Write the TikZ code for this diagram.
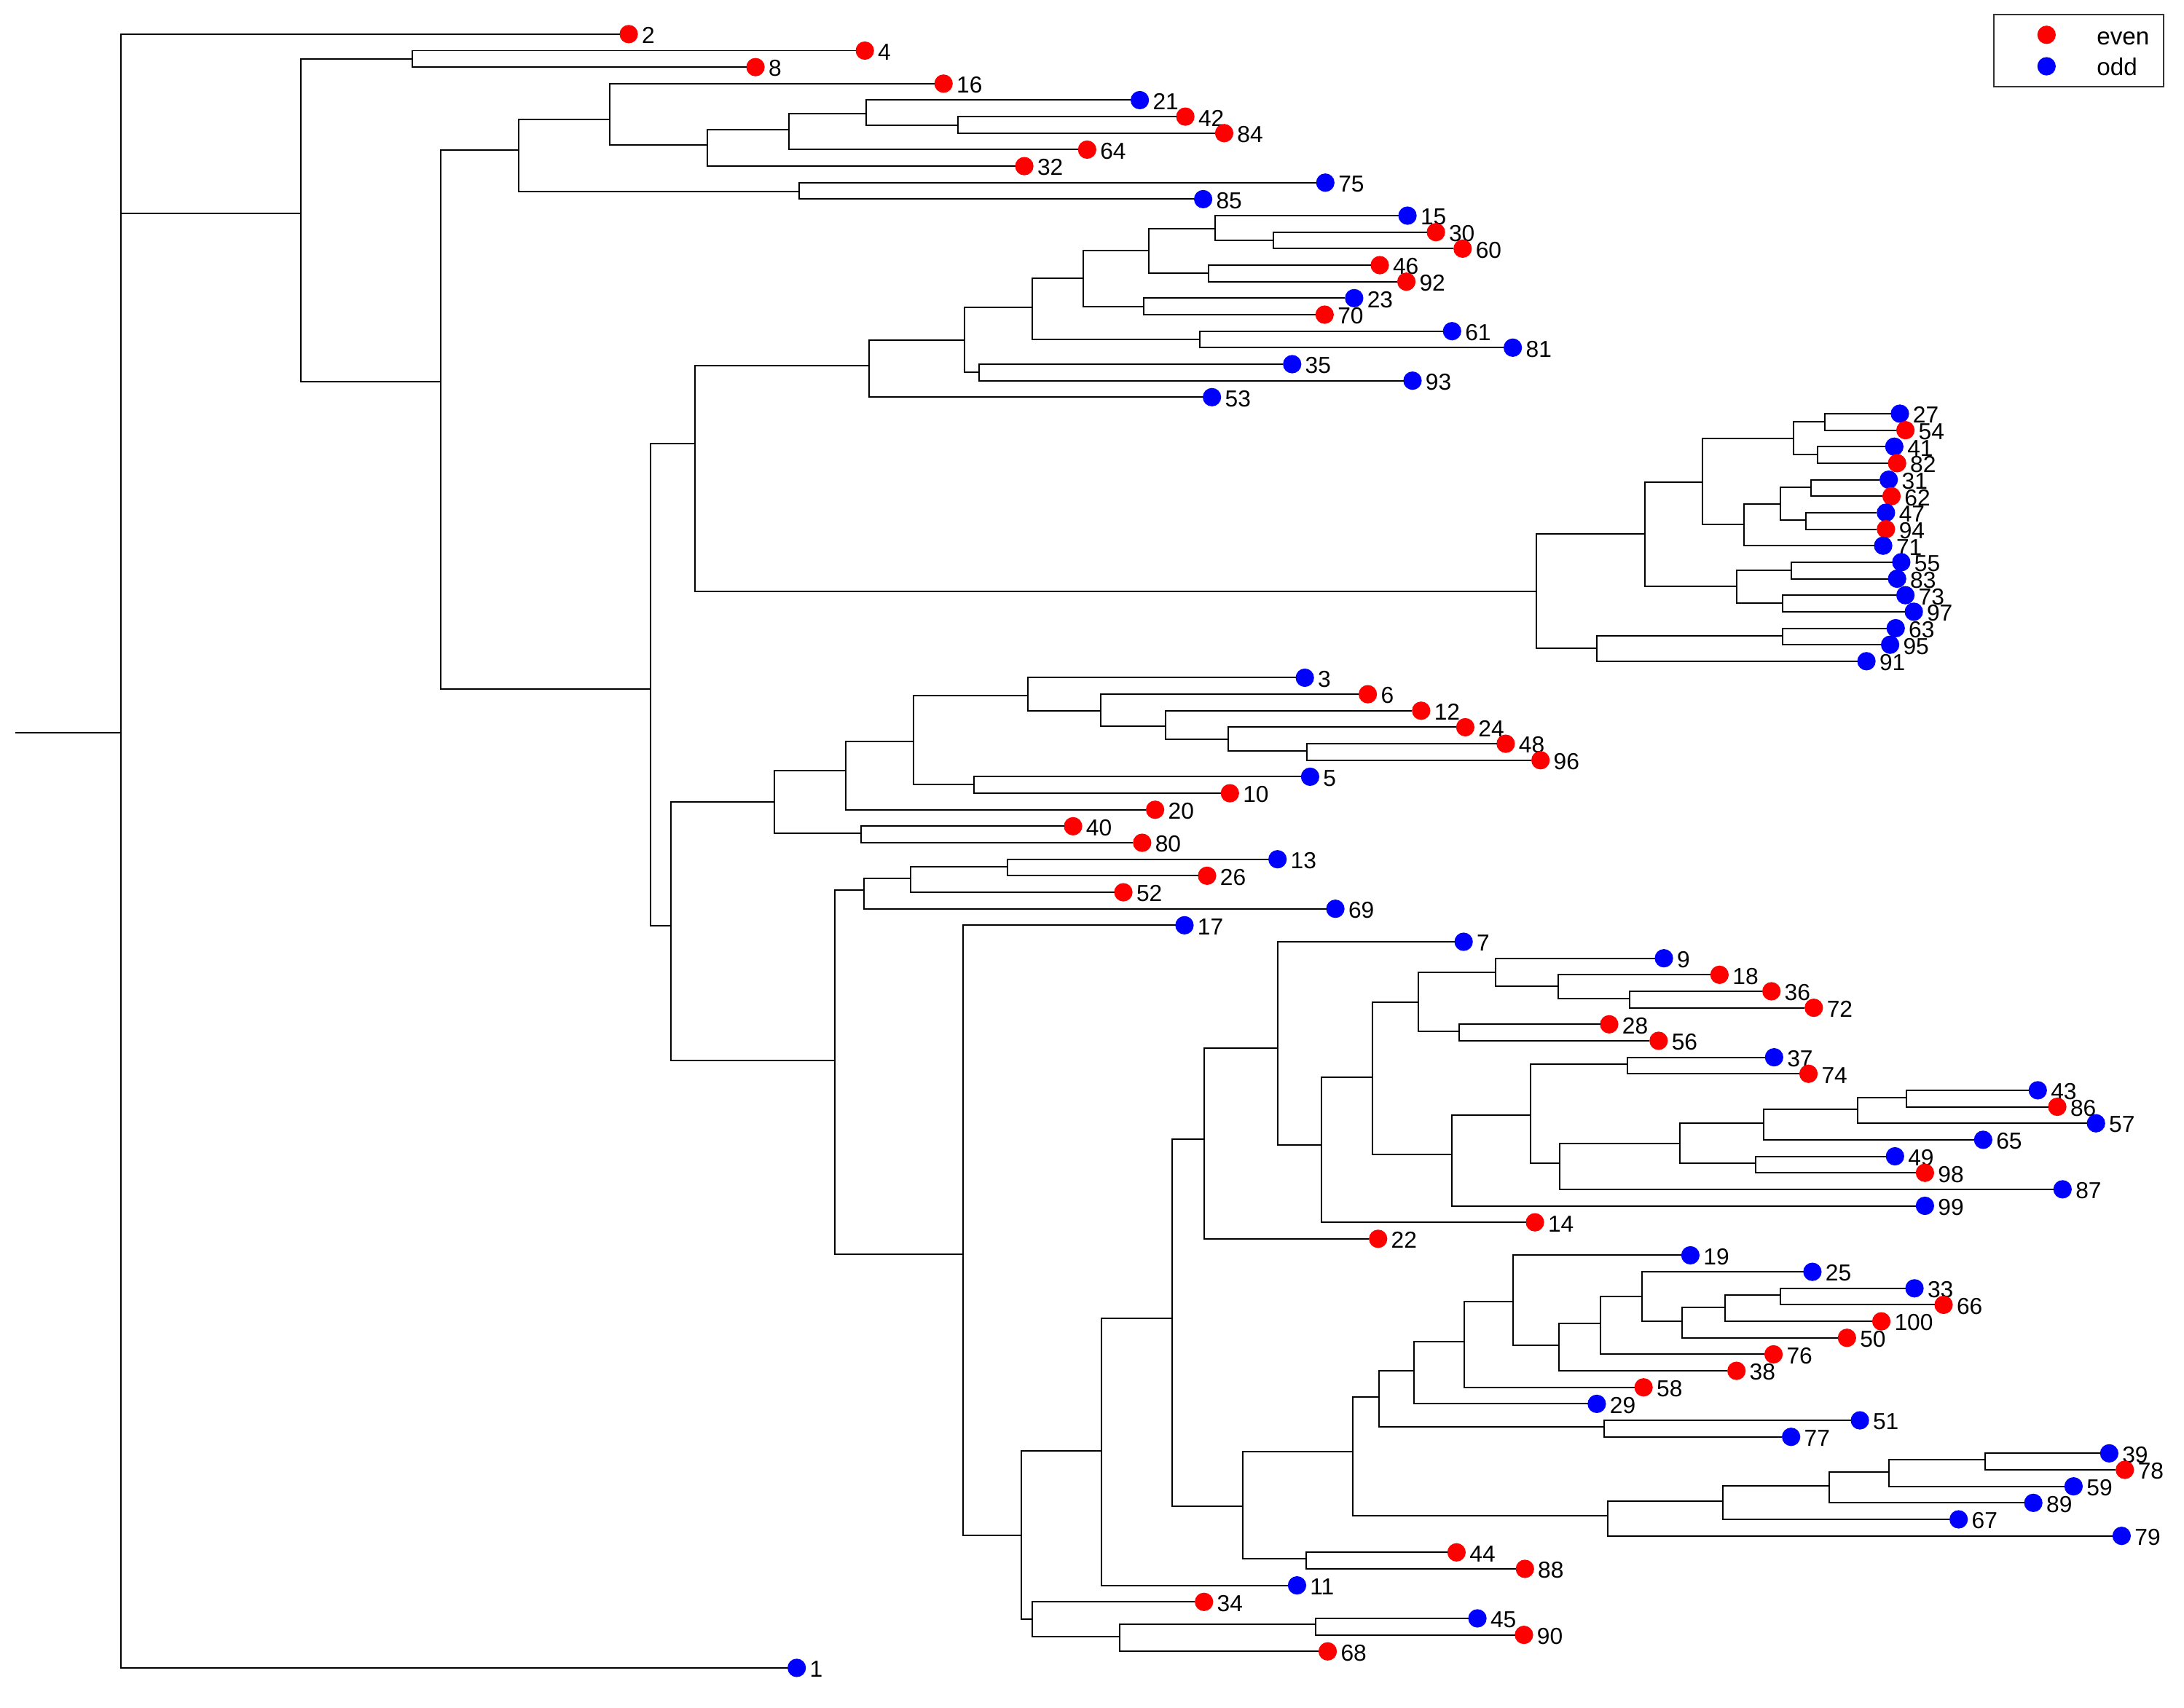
\documentclass[tikz,border=0pt]{standalone}
\usepackage{fontspec}
\setmainfont{Liberation Sans}
\tikzset{
  dot/.style={shape=circle,inner sep=0pt,minimum size=6.6pt},
  tiplab/.style={inner sep=1pt,yshift=-0.5pt,font=\fontsize{8.3}{10}\selectfont},
  even/.style={dot,fill=red,label distance=1.3pt,label={[tiplab]right:#1}},
  odd/.style={dot,fill=blue,label distance=1.3pt,label={[tiplab]right:#1}},
  branch/.style={line width=0.52pt,line cap=rect}
}
\begin{document}
\begin{tikzpicture}[x=0.5pt,y=-0.5pt]
        \useasboundingbox (0,0) rectangle (1568,1226);
        \node[even=2] (L2) at (451.4,24.5) {};
        \node[even=4] (L4) at (620.9,36.35) {};
        \node[even=8] (L8) at (542.4,48.2) {};
        \node[even=16] (L16) at (677.4,60.05) {};
        \node[odd=21] (L21) at (818.3,71.9) {};
        \node[even=42] (L42) at (851,83.75) {};
        \node[even=84] (L84) at (878.9,95.6) {};
        \node[even=64] (L64) at (780.5,107.45) {};
        \node[even=32] (L32) at (735.4,119.3) {};
        \node[odd=75] (L75) at (951.5,131.15) {};
        \node[odd=85] (L85) at (863.8,143) {};
        \node[odd=15] (L15) at (1010.5,154.85) {};
        \node[even=30] (L30) at (1030.9,166.7) {};
        \node[even=60] (L60) at (1050.1,178.55) {};
        \node[even=46] (L46) at (990.6,190.4) {};
        \node[even=92] (L92) at (1009.7,202.25) {};
        \node[odd=23] (L23) at (972.2,214.1) {};
        \node[even=70] (L70) at (951,225.95) {};
        \node[odd=61] (L61) at (1042.5,237.8) {};
        \node[odd=81] (L81) at (1086.1,249.65) {};
        \node[odd=35] (L35) at (927.7,261.5) {};
        \node[odd=93] (L93) at (1014.1,273.35) {};
        \node[odd=53] (L53) at (870.1,285.2) {};
        \node[odd=27] (L27) at (1364,297.05) {};
        \node[even=54] (L54) at (1368,308.9) {};
        \node[odd=41] (L41) at (1360,320.75) {};
        \node[even=82] (L82) at (1362,332.6) {};
        \node[odd=31] (L31) at (1356,344.45) {};
        \node[even=62] (L62) at (1358,356.3) {};
        \node[odd=47] (L47) at (1354,368.15) {};
        \node[even=94] (L94) at (1354,380) {};
        \node[odd=71] (L71) at (1352,391.85) {};
        \node[odd=55] (L55) at (1365,403.7) {};
        \node[odd=83] (L83) at (1362,415.55) {};
        \node[odd=73] (L73) at (1368,427.4) {};
        \node[odd=97] (L97) at (1374,439.25) {};
        \node[odd=63] (L63) at (1361,451.1) {};
        \node[odd=95] (L95) at (1357,462.95) {};
        \node[odd=91] (L91) at (1340,474.8) {};
        \node[odd=3] (L3) at (936.8,486.65) {};
        \node[even=6] (L6) at (982,498.5) {};
        \node[even=12] (L12) at (1020.3,510.35) {};
        \node[even=24] (L24) at (1052,522.2) {};
        \node[even=48] (L48) at (1081,534.05) {};
        \node[even=96] (L96) at (1106,545.9) {};
        \node[odd=5] (L5) at (940.6,557.75) {};
        \node[even=10] (L10) at (883,569.6) {};
        \node[even=20] (L20) at (829.3,581.45) {};
        \node[even=40] (L40) at (770.4,593.3) {};
        \node[even=80] (L80) at (820,605.15) {};
        \node[odd=13] (L13) at (917.2,617) {};
        \node[even=26] (L26) at (866.6,628.85) {};
        \node[even=52] (L52) at (806.5,640.7) {};
        \node[odd=69] (L69) at (958.7,652.55) {};
        \node[odd=17] (L17) at (850.4,664.4) {};
        \node[odd=7] (L7) at (1050.8,676.25) {};
        \node[odd=9] (L9) at (1194.6,688.1) {};
        \node[even=18] (L18) at (1234.5,699.95) {};
        \node[even=36] (L36) at (1271.8,711.8) {};
        \node[even=72] (L72) at (1302.2,723.65) {};
        \node[even=28] (L28) at (1155.3,735.5) {};
        \node[even=56] (L56) at (1190.8,747.35) {};
        \node[odd=37] (L37) at (1273.7,759.2) {};
        \node[even=74] (L74) at (1298.4,771.05) {};
        \node[odd=43] (L43) at (1463,782.9) {};
        \node[even=86] (L86) at (1477,794.75) {};
        \node[odd=57] (L57) at (1504.8,806.6) {};
        \node[odd=65] (L65) at (1423.8,818.45) {};
        \node[odd=49] (L49) at (1360.5,830.3) {};
        \node[even=98] (L98) at (1382,842.15) {};
        \node[odd=87] (L87) at (1480.8,854) {};
        \node[odd=99] (L99) at (1382,865.85) {};
        \node[even=14] (L14) at (1102,877.7) {};
        \node[even=22] (L22) at (989.4,889.55) {};
        \node[odd=19] (L19) at (1213.6,901.4) {};
        \node[odd=25] (L25) at (1301.2,913.25) {};
        \node[odd=33] (L33) at (1374.5,925.1) {};
        \node[even=66] (L66) at (1395.4,936.95) {};
        \node[even=100] (L100) at (1350.7,948.8) {};
        \node[even=50] (L50) at (1326,960.65) {};
        \node[even=76] (L76) at (1273.3,972.5) {};
        \node[even=38] (L38) at (1246.7,984.35) {};
        \node[even=58] (L58) at (1180,996.2) {};
        \node[odd=29] (L29) at (1146.4,1008.05) {};
        \node[odd=51] (L51) at (1335.3,1019.9) {};
        \node[odd=77] (L77) at (1285.9,1031.75) {};
        \node[odd=39] (L39) at (1514.3,1043.6) {};
        \node[even=78] (L78) at (1525.5,1055.45) {};
        \node[odd=59] (L59) at (1488.7,1067.3) {};
        \node[odd=89] (L89) at (1459.8,1079.15) {};
        \node[odd=67] (L67) at (1406.2,1091) {};
        \node[odd=79] (L79) at (1523.2,1102.85) {};
        \node[even=44] (L44) at (1045.7,1114.7) {};
        \node[even=88] (L88) at (1094.8,1126.55) {};
        \node[odd=11] (L11) at (931.2,1138.4) {};
        \node[even=34] (L34) at (864.4,1150.25) {};
        \node[odd=45] (L45) at (1060.7,1162.1) {};
        \node[even=90] (L90) at (1094.1,1173.95) {};
        \node[even=68] (L68) at (953.2,1185.8) {};
        \node[odd=1] (L1) at (572,1197.65) {};
        \coordinate (R) at (11.5,526);
        \coordinate (N0) at (86.7,526);
        \coordinate (N1) at (216,153);
        \coordinate (N2) at (296.2,42.5);
        \coordinate (N3) at (316.4,274);
        \coordinate (N4) at (372.6,107.7);
        \coordinate (N5) at (437.5,85.6);
        \coordinate (N6) at (507.6,104);
        \coordinate (N7) at (566.3,93);
        \coordinate (N8) at (621.7,81.4);
        \coordinate (N9) at (687.7,89.8);
        \coordinate (N10) at (573.6,137.5);
        \coordinate (N11) at (467,495);
        \coordinate (N12) at (498.8,318.6);
        \coordinate (N13) at (623.9,262.4);
        \coordinate (N14) at (692.5,244.5);
        \coordinate (N15) at (741.3,220.5);
        \coordinate (N16) at (777.6,200);
        \coordinate (N17) at (824.6,180);
        \coordinate (N18) at (872.3,164);
        \coordinate (N19) at (914.4,172.5);
        \coordinate (N20) at (867.5,196);
        \coordinate (N21) at (820.9,220);
        \coordinate (N22) at (861.2,243.5);
        \coordinate (N23) at (703.1,267);
        \coordinate (N24) at (1103,424.5);
        \coordinate (N25) at (1181,383.2);
        \coordinate (N26) at (1222.2,346);
        \coordinate (N27) at (1287.4,314.7);
        \coordinate (N28) at (1310,302.6);
        \coordinate (N29) at (1304.7,326.3);
        \coordinate (N30) at (1252,376.5);
        \coordinate (N31) at (1278,361.7);
        \coordinate (N32) at (1300,350);
        \coordinate (N33) at (1296.4,373.6);
        \coordinate (N34) at (1246.8,421);
        \coordinate (N35) at (1286,409.5);
        \coordinate (N36) at (1280,432.9);
        \coordinate (N37) at (1146.2,465.5);
        \coordinate (N38) at (1280,456.4);
        \coordinate (N39) at (481.5,664.6);
        \coordinate (N40) at (556.1,575.7);
        \coordinate (N41) at (607,553.3);
        \coordinate (N42) at (655.6,532.3);
        \coordinate (N43) at (737.8,499.5);
        \coordinate (N44) at (790.1,510.5);
        \coordinate (N45) at (836.6,521.4);
        \coordinate (N46) at (881.7,530.9);
        \coordinate (N47) at (938.2,539.2);
        \coordinate (N48) at (699.5,563.3);
        \coordinate (N49) at (618.2,598.3);
        \coordinate (N50) at (599.4,761.5);
        \coordinate (N51) at (620.1,638.9);
        \coordinate (N52) at (653.8,630.6);
        \coordinate (N53) at (723.3,622.2);
        \coordinate (N54) at (691.4,900.5);
        \coordinate (N55) at (733.1,1102.4);
        \coordinate (N56) at (790.7,1042);
        \coordinate (N57) at (841.7,946.6);
        \coordinate (N58) at (864.7,818);
        \coordinate (N59) at (917.2,752.6);
        \coordinate (N60) at (948.9,822.2);
        \coordinate (N61) at (985.6,773.3);
        \coordinate (N62) at (1018.5,719.6);
        \coordinate (N63) at (1073.6,698.2);
        \coordinate (N64) at (1118.6,708.1);
        \coordinate (N65) at (1169.9,716.9);
        \coordinate (N66) at (1047.7,740.6);
        \coordinate (N67) at (1042.6,828.8);
        \coordinate (N68) at (1099,800.5);
        \coordinate (N69) at (1168.6,763.9);
        \coordinate (N70) at (1119.9,835.4);
        \coordinate (N71) at (1206,821.1);
        \coordinate (N72) at (1266.1,806.5);
        \coordinate (N73) at (1333.9,796.5);
        \coordinate (N74) at (1368.7,788.2);
        \coordinate (N75) at (1260.4,835.2);
        \coordinate (N76) at (892.3,1081.7);
        \coordinate (N77) at (971.1,1042.3);
        \coordinate (N78) at (990.2,1003.1);
        \coordinate (N79) at (1014.9,984.3);
        \coordinate (N80) at (1051.3,963.2);
        \coordinate (N81) at (1086.3,934.4);
        \coordinate (N82) at (1119.4,965.8);
        \coordinate (N83) at (1148.8,950.3);
        \coordinate (N84) at (1179.1,930.9);
        \coordinate (N85) at (1207.5,948.5);
        \coordinate (N86) at (1238.3,938.8);
        \coordinate (N87) at (1278.4,929.9);
        \coordinate (N88) at (1151.6,1024.4);
        \coordinate (N89) at (1154.4,1088.4);
        \coordinate (N90) at (1236.9,1077.7);
        \coordinate (N91) at (1313.4,1066.9);
        \coordinate (N92) at (1356.3,1057);
        \coordinate (N93) at (1425.3,1048.1);
        \coordinate (N94) at (938,1119.1);
        \coordinate (N95) at (741.1,1162.7);
        \coordinate (N96) at (803.9,1175.2);
        \coordinate (N97) at (944.8,1166.3);
        \draw[branch] (R) -- (N0);
        \draw[branch] (N0) |- (L2) (N0) |- (N1) (N0) |- (L1);
        \draw[branch] (N1) |- (N2) (N1) |- (N3);
        \draw[branch] (N2) |- (L4) (N2) |- (L8);
        \draw[branch] (N3) |- (N4) (N3) |- (N11);
        \draw[branch] (N4) |- (N5) (N4) |- (N10);
        \draw[branch] (N5) |- (L16) (N5) |- (N6);
        \draw[branch] (N6) |- (N7) (N6) |- (L32);
        \draw[branch] (N7) |- (N8) (N7) |- (L64);
        \draw[branch] (N8) |- (L21) (N8) |- (N9);
        \draw[branch] (N9) |- (L42) (N9) |- (L84);
        \draw[branch] (N10) |- (L75) (N10) |- (L85);
        \draw[branch] (N11) |- (N12) (N11) |- (N39);
        \draw[branch] (N12) |- (N13) (N12) |- (N24);
        \draw[branch] (N13) |- (N14) (N13) |- (L53);
        \draw[branch] (N14) |- (N15) (N14) |- (N23);
        \draw[branch] (N15) |- (N16) (N15) |- (N22);
        \draw[branch] (N16) |- (N17) (N16) |- (N21);
        \draw[branch] (N17) |- (N18) (N17) |- (N20);
        \draw[branch] (N18) |- (L15) (N18) |- (N19);
        \draw[branch] (N19) |- (L30) (N19) |- (L60);
        \draw[branch] (N20) |- (L46) (N20) |- (L92);
        \draw[branch] (N21) |- (L23) (N21) |- (L70);
        \draw[branch] (N22) |- (L61) (N22) |- (L81);
        \draw[branch] (N23) |- (L35) (N23) |- (L93);
        \draw[branch] (N24) |- (N25) (N24) |- (N37);
        \draw[branch] (N25) |- (N26) (N25) |- (N34);
        \draw[branch] (N26) |- (N27) (N26) |- (N30);
        \draw[branch] (N27) |- (N28) (N27) |- (N29);
        \draw[branch] (N28) |- (L27) (N28) |- (L54);
        \draw[branch] (N29) |- (L41) (N29) |- (L82);
        \draw[branch] (N30) |- (N31) (N30) |- (L71);
        \draw[branch] (N31) |- (N32) (N31) |- (N33);
        \draw[branch] (N32) |- (L31) (N32) |- (L62);
        \draw[branch] (N33) |- (L47) (N33) |- (L94);
        \draw[branch] (N34) |- (N35) (N34) |- (N36);
        \draw[branch] (N35) |- (L55) (N35) |- (L83);
        \draw[branch] (N36) |- (L73) (N36) |- (L97);
        \draw[branch] (N37) |- (N38) (N37) |- (L91);
        \draw[branch] (N38) |- (L63) (N38) |- (L95);
        \draw[branch] (N39) |- (N40) (N39) |- (N50);
        \draw[branch] (N40) |- (N41) (N40) |- (N49);
        \draw[branch] (N41) |- (N42) (N41) |- (L20);
        \draw[branch] (N42) |- (N43) (N42) |- (N48);
        \draw[branch] (N43) |- (L3) (N43) |- (N44);
        \draw[branch] (N44) |- (L6) (N44) |- (N45);
        \draw[branch] (N45) |- (L12) (N45) |- (N46);
        \draw[branch] (N46) |- (L24) (N46) |- (N47);
        \draw[branch] (N47) |- (L48) (N47) |- (L96);
        \draw[branch] (N48) |- (L5) (N48) |- (L10);
        \draw[branch] (N49) |- (L40) (N49) |- (L80);
        \draw[branch] (N50) |- (N51) (N50) |- (N54);
        \draw[branch] (N51) |- (N52) (N51) |- (L69);
        \draw[branch] (N52) |- (N53) (N52) |- (L52);
        \draw[branch] (N53) |- (L13) (N53) |- (L26);
        \draw[branch] (N54) |- (L17) (N54) |- (N55);
        \draw[branch] (N55) |- (N56) (N55) |- (N95);
        \draw[branch] (N56) |- (N57) (N56) |- (L11);
        \draw[branch] (N57) |- (N58) (N57) |- (N76);
        \draw[branch] (N58) |- (N59) (N58) |- (L22);
        \draw[branch] (N59) |- (L7) (N59) |- (N60);
        \draw[branch] (N60) |- (N61) (N60) |- (L14);
        \draw[branch] (N61) |- (N62) (N61) |- (N67);
        \draw[branch] (N62) |- (N63) (N62) |- (N66);
        \draw[branch] (N63) |- (L9) (N63) |- (N64);
        \draw[branch] (N64) |- (L18) (N64) |- (N65);
        \draw[branch] (N65) |- (L36) (N65) |- (L72);
        \draw[branch] (N66) |- (L28) (N66) |- (L56);
        \draw[branch] (N67) |- (N68) (N67) |- (L99);
        \draw[branch] (N68) |- (N69) (N68) |- (N70);
        \draw[branch] (N69) |- (L37) (N69) |- (L74);
        \draw[branch] (N70) |- (N71) (N70) |- (L87);
        \draw[branch] (N71) |- (N72) (N71) |- (N75);
        \draw[branch] (N72) |- (N73) (N72) |- (L65);
        \draw[branch] (N73) |- (N74) (N73) |- (L57);
        \draw[branch] (N74) |- (L43) (N74) |- (L86);
        \draw[branch] (N75) |- (L49) (N75) |- (L98);
        \draw[branch] (N76) |- (N77) (N76) |- (N94);
        \draw[branch] (N77) |- (N78) (N77) |- (N89);
        \draw[branch] (N78) |- (N79) (N78) |- (N88);
        \draw[branch] (N79) |- (N80) (N79) |- (L29);
        \draw[branch] (N80) |- (N81) (N80) |- (L58);
        \draw[branch] (N81) |- (L19) (N81) |- (N82);
        \draw[branch] (N82) |- (N83) (N82) |- (L38);
        \draw[branch] (N83) |- (N84) (N83) |- (L76);
        \draw[branch] (N84) |- (L25) (N84) |- (N85);
        \draw[branch] (N85) |- (N86) (N85) |- (L50);
        \draw[branch] (N86) |- (N87) (N86) |- (L100);
        \draw[branch] (N87) |- (L33) (N87) |- (L66);
        \draw[branch] (N88) |- (L51) (N88) |- (L77);
        \draw[branch] (N89) |- (N90) (N89) |- (L79);
        \draw[branch] (N90) |- (N91) (N90) |- (L67);
        \draw[branch] (N91) |- (N92) (N91) |- (L89);
        \draw[branch] (N92) |- (N93) (N92) |- (L59);
        \draw[branch] (N93) |- (L39) (N93) |- (L78);
        \draw[branch] (N94) |- (L44) (N94) |- (L88);
        \draw[branch] (N95) |- (L34) (N95) |- (N96);
        \draw[branch] (N96) |- (N97) (N96) |- (L68);
        \draw[branch] (N97) |- (L45) (N97) |- (L90);
        \draw[line width=0.52pt,draw=black!80] (1431.7,10.4) rectangle (1553.2,62.2);
        \node[dot,fill=red] (keyeven) at (1469.3,25) {};
        \node[dot,fill=blue] (keyodd) at (1469.3,47.6) {};
        \node[anchor=base west,inner sep=0pt,font=\fontsize{8.7}{10}\selectfont] (txteven) at (1505,32) {even};
        \node[anchor=base west,inner sep=0pt,font=\fontsize{8.7}{10}\selectfont] (txtodd) at (1505,54.2) {odd};
\end{tikzpicture}
\end{document}
